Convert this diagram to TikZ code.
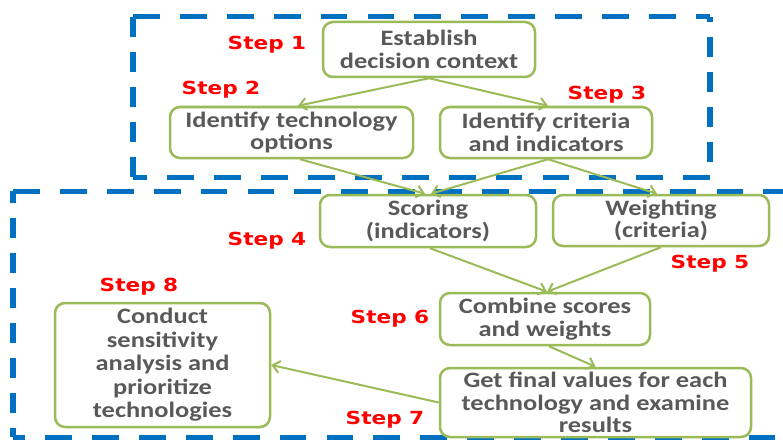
\documentclass[tikz,border=0pt]{standalone}
\usepackage{fontspec}
\usetikzlibrary{arrows.meta}
\newfontfamily\boxfont[FakeStretch=1.2]{Carlito}
\newfontfamily\stepfont[FakeStretch=1.2]{DejaVu Sans}
\definecolor{frameblue}{RGB}{0,112,192}
\definecolor{boxgreen}{RGB}{155,187,89}
\definecolor{textgray}{RGB}{89,89,89}
\definecolor{stepred}{RGB}{255,0,0}

\begin{document}
\begin{tikzpicture}[x=1pt,y=-1pt,
  stepbox/.style={draw=boxgreen, line width=2.5pt, rounded corners=10pt, fill=white,
    align=center, text=textgray, inner sep=0pt,
    font=\boxfont\bfseries\fontsize{22}{22.5}\selectfont},
  steplabel/.style={text=stepred, anchor=base, inner sep=0pt,
    font=\stepfont\bfseries\fontsize{18}{18}\selectfont},
  flow/.style={draw=boxgreen, line width=2pt,
    -{Straight Barb[length=7pt,width=12pt,line width=2pt]}},
  frame/.style={draw=frameblue, line width=5pt, dash pattern=on 20pt off 15pt}
]
\clip (0,0) rectangle (783,441);
\fill[white] (0,0) rectangle (783,441);

% dashed frames, stretched horizontally on the canvas
\begin{scope}[transform canvas={xscale=1.34}]
  % upper frame: steps 1-3
  \draw[frame] (133/1.34,17) -- (710/1.34,17);
  \draw[frame, dash phase=15pt] (710/1.34,17) -- (710/1.34,177);
  \draw[frame] (710/1.34,177) -- (133/1.34,177);
  \draw[frame] (133/1.34,17) -- (133/1.34,177);
  % lower frame: steps 4-8
  \draw[frame] (13/1.34,191) -- (820/1.34,191);
  \draw[frame, dash phase=8pt] (13/1.34,191) -- (13/1.34,437);
  \draw[frame, dash phase=11pt] (13/1.34,437) -- (820/1.34,437);
\end{scope}

% process boxes
\node[stepbox, minimum width=212pt, minimum height=55pt] (est) at (429,49.5)
  {Establish\\decision context};
\node[stepbox, minimum width=243pt, minimum height=51pt] (opt) at (291.5,132.5)
  {Identify technology\\options};
\node[stepbox, minimum width=212pt, minimum height=51pt] (crit) at (546,132.5)
  {Identify criteria\\and indicators};
\node[stepbox, minimum width=216pt, minimum height=52pt] (score) at (428,221)
  {Scoring\\(indicators)};
\node[stepbox, minimum width=216pt, minimum height=51pt] (weight) at (661,220.5)
  {Weighting\\(criteria)};
\node[stepbox, minimum width=210pt, minimum height=52pt] (comb) at (545,319)
  {Combine scores\\and weights};
\node[stepbox, minimum width=311pt, minimum height=69pt] (final) at (595.5,402.5)
  {Get final values for each\\technology and examine\\results};
\node[stepbox, minimum width=215pt, minimum height=124pt,
  font=\boxfont\bfseries\fontsize{22}{23.5}\selectfont] (sens) at (162.5,365)
  {Conduct\\sensitivity\\analysis and\\prioritize\\technologies};

% connectors
\draw[flow] (est.south) -- ([xshift=6.5pt]opt.north);
\draw[flow] (est.south) -- ([xshift=2pt]crit.north);
\draw[flow] ([xshift=8.5pt]opt.south) -- ([xshift=-3pt]score.north);
\draw[flow] ([xshift=2pt]crit.south) -- ([xshift=3pt]score.north);
\draw[flow] ([xshift=2pt]crit.south) -- ([xshift=-4pt]weight.north);
\draw[flow] ([xshift=2pt]score.south) -- ([xshift=2pt]comb.north);
\draw[flow] (weight.south) -- ([xshift=2pt]comb.north);
\draw[flow] ([xshift=4pt]comb.south) -- (final.north);
\draw[flow] (final.west) -- (sens.east);

% step labels
\node[steplabel] (l1) at (267,50) {Step 1};
\node[steplabel] (l2) at (221,94.5) {Step 2};
\node[steplabel] (l3) at (607,99.5) {Step 3};
\node[steplabel] (l4) at (267,245.5) {Step 4};
\node[steplabel] (l5) at (710,268) {Step 5};
\node[steplabel] (l6) at (390,323.5) {Step 6};
\node[steplabel] (l7) at (385,424.5) {Step 7};
\node[steplabel] (l8) at (139,291.5) {Step 8};
\end{tikzpicture}
\end{document}
